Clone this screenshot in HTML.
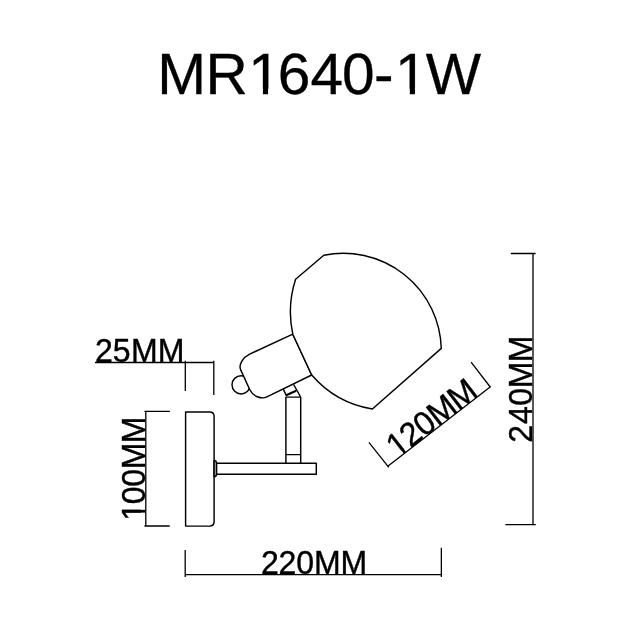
<!DOCTYPE html>
<html>
<head>
<meta charset="utf-8">
<title>MR1640-1W</title>
<style>
html,body{margin:0;padding:0;background:#fff;}
body{width:630px;height:630px;overflow:hidden;}
svg{display:block;will-change:transform;}
text{font-family:"Liberation Sans",Arial,sans-serif;fill:#000;}
.l{fill:none;stroke:#000;stroke-width:1.45;stroke-linejoin:round;stroke-linecap:butt;}
.d{fill:none;stroke:#000;stroke-width:1.3;}
</style>
</head>
<body>
<svg width="630" height="630" viewBox="0 0 630 630">
<rect width="630" height="630" fill="#fff"/>
<!-- title -->
<g transform="translate(157.10 94.10) scale(1.0050 1)"><text x="0.10 48.13 90.63 120.14 152.54 184.05 215.85 236.79 267.20" y="0" font-size="58.30" stroke="#000" stroke-width="0.3">MR1640-1W</text><rect x="94.07" y="-5.36" width="11.22" height="6.96" fill="#fff"/><rect x="110.44" y="-5.36" width="10.76" height="6.96" fill="#fff"/><rect x="240.23" y="-5.36" width="11.22" height="6.96" fill="#fff"/><rect x="256.60" y="-5.36" width="10.76" height="6.96" fill="#fff"/></g>
<!-- 25MM -->
<g transform="translate(95.00 362.10) scale(0.9600 1)"><text x="0.00 18.57 37.45 65.26" y="0" font-size="33.40" stroke="#000" stroke-width="0.4">25MM</text></g>
<!-- 100MM -->
<g transform="translate(144.70 521.70) rotate(-90.00) scale(0.9600 1)"><text x="1.04 18.17 36.35 54.52 81.74" y="0" font-size="33.40" stroke="#000" stroke-width="0.4">100MM</text><rect x="2.59" y="-3.50" width="6.85" height="5.10" fill="#fff"/><rect x="12.39" y="-3.50" width="6.59" height="5.10" fill="#fff"/></g>
<!-- 220MM -->
<g transform="translate(260.90 573.50) scale(0.9600 1)"><text x="0.00 18.42 36.83 55.25 82.83" y="0" font-size="33.40" stroke="#000" stroke-width="0.4">220MM</text></g>
<!-- 240MM -->
<g transform="translate(532.00 442.70) rotate(-90.00) scale(0.9600 1)"><text x="0.00 19.42 38.43 56.71 83.93" y="0" font-size="33.40" stroke="#000" stroke-width="0.4">240MM</text></g>
<!-- 120MM -->
<g transform="translate(396.90 458.90) rotate(-37.70) scale(0.9600 1)"><text x="0.62 18.05 36.10 54.16 81.19" y="0" font-size="33.40" stroke="#000" stroke-width="0.4">120MM</text><rect x="2.17" y="-3.50" width="6.85" height="5.10" fill="#fff"/><rect x="11.98" y="-3.50" width="6.59" height="5.10" fill="#fff"/></g>

<!-- dimension lines -->
<path class="d" d="M95 362.5H213.8M185.3 360.8V391.1M213.8 360.8V395"/>
<path class="d" d="M145.8 411.3V526M144.4 411.3H169.9M144.4 526H169.7"/>
<path class="d" d="M185.2 550.1V577M185.2 574.6H441.35M441.35 547.7V577"/>
<path class="d" d="M533 253.5V524.7M510.8 253.5H535.6M505.4 524.7H535.8"/>
<path class="d" d="M387.8 466.2L489.8 387.2M368.9 442.4L388.8 467.4M471.1 362.2L490.6 387.5"/>
<!-- wall plate -->
<path class="l" d="M185.6 411.9H209.6Q214.1 411.9 214.1 416.4V521.6Q214.1 526.1 209.6 526.1H185.6Z"/>
<!-- arm -->
<path class="l" style="fill:#a8a8a8" d="M214.1 460.4Q216.6 460.6 216.6 463.3V474.3Q216.6 476.6 214.1 476.8Z"/>
<path class="l" d="M216.8 463.3H316.3V474.3H216.8"/>
<!-- stem -->
<path class="l" d="M285.9 463.3V397M300.7 397V463.3"/>
<path class="l" style="stroke-width:1.2" d="M285.9 397.2H300.7M285.9 454.7H300.7"/>
<!-- joint -->
<path class="l" d="M283.3 389.1L286.6 396.2M293.6 384.5L300.6 397"/>
<path class="l" style="stroke-width:2.1" d="M286.3 395.3L296.1 390.8"/>
<!-- nub -->
<circle class="l" cx="241.1" cy="384.8" r="9.1"/>
<!-- socket -->
<path class="l" style="fill:#fff" d="M292.8 334.2L249.2 354.3C242.8 357.35 238.5 364.9 240.6 369.6L249.8 389.8C252.75 396.05 261.3 399.6 266.9 396.9L311.7 375Z"/>
<!-- shade -->
<path class="l" style="fill:#fff" d="M295.6 279.2L323.8 255.3A98 98 0 0 1 441.3 348.4L372.4 409A101.6 101.6 0 0 1 311.7 375L292.8 334.2A105.5 105.5 0 0 1 295.6 279.2Z"/>
</svg>
</body>
</html>
